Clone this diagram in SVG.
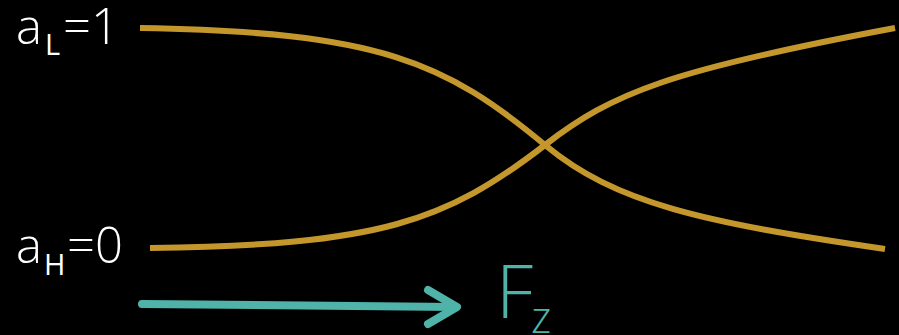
<svg xmlns="http://www.w3.org/2000/svg" width="899" height="335" viewBox="0 0 899 335">
<style>
.curve{fill:none;stroke:#c4972c;stroke-width:6;stroke-linecap:butt}
.lbl{fill:#ffffff;font-family:"Open Sans","DejaVu Sans",sans-serif;font-weight:300}
.sub{font-weight:400}
.teal{fill:none;stroke:#4fb3a9;stroke-width:8;stroke-linecap:round;stroke-linejoin:round}
</style>
<rect width="899" height="335" fill="#000"/>
<g id="connectors">
<path class="curve" d="M140,28 C380,32 445,62 545,145 C615,203 700,222 885,249"/>
<path class="curve" d="M150,248 C380,245 445,222 545,145 C612,93 670,70 895,28"/>
<path class="teal" d="M142,304 L455,307"/>
<path class="teal" d="M428,290 L457,307 L428,324"/>
</g>
<g id="label-aL">
<text class="lbl" x="16" y="44" font-size="49">a<tspan class="sub" x="45" y="55" font-size="29">L</tspan><tspan x="63" y="44">=1</tspan></text>
</g>
<g id="label-aH">
<text class="lbl" x="16" y="263" font-size="49">a<tspan class="sub" x="44" y="275" font-size="29">H</tspan><tspan x="67" y="263">=0</tspan></text>
</g>
<g id="label-Fz">
<text x="496" y="318" font-size="74" fill="#4fb3a9" font-family="Open Sans,DejaVu Sans,sans-serif" font-weight="300">F<tspan x="531" y="333" font-size="44">z</tspan></text>
</g>
</svg>
